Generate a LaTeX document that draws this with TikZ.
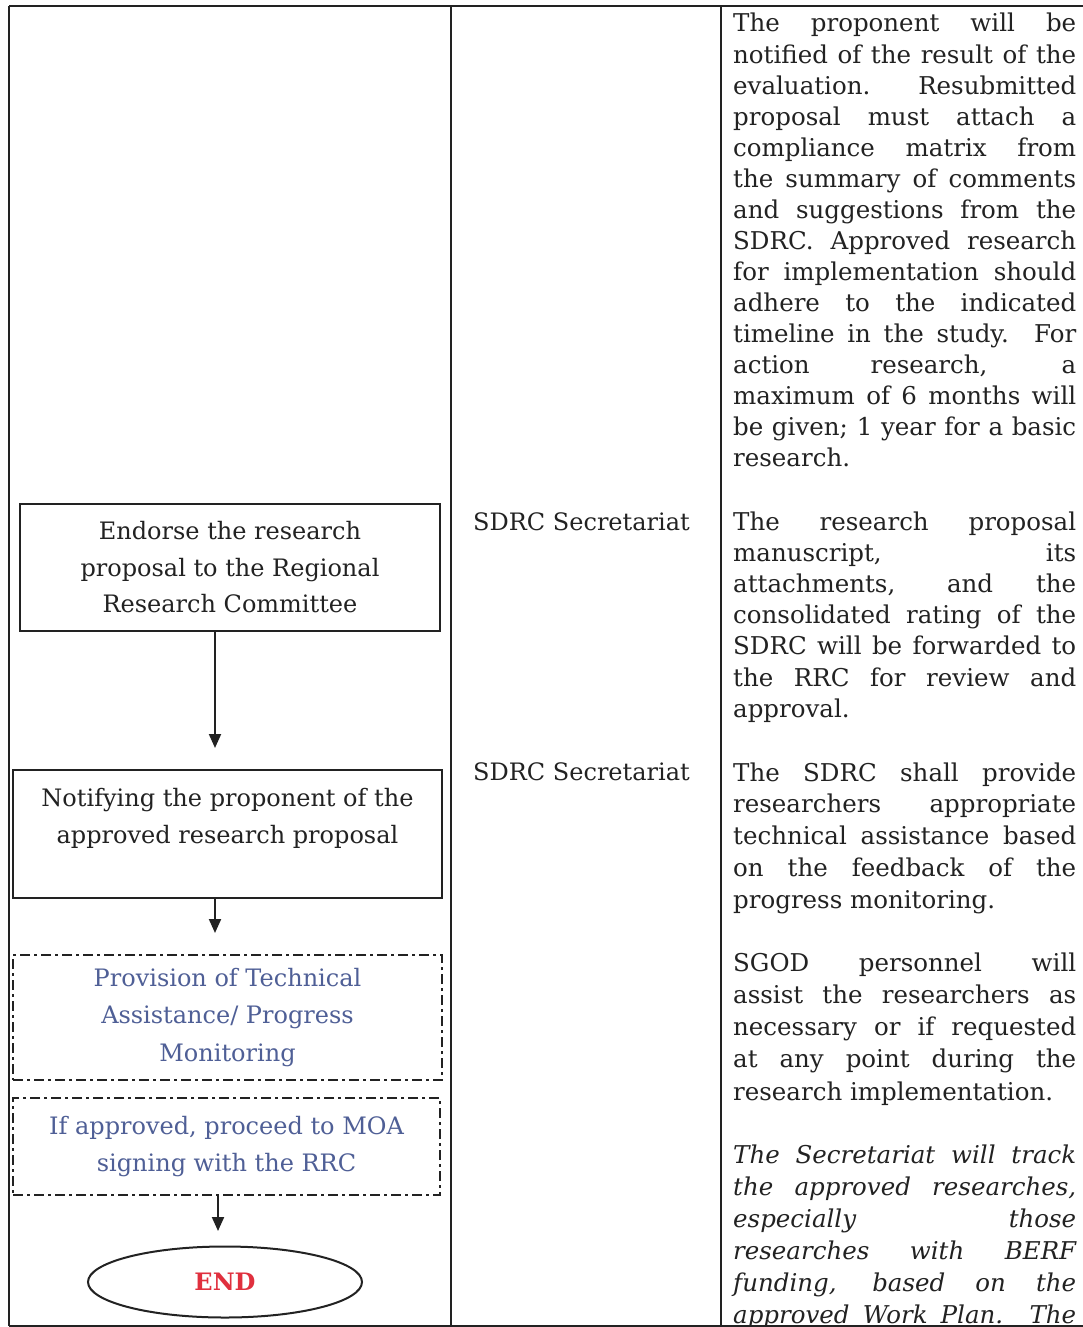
\documentclass[tikz,border=0pt]{standalone}
\usepackage{fontspec}
\setmainfont{DejaVu Serif}
\usetikzlibrary{arrows.meta,shapes.geometric}
\definecolor{ink}{HTML}{222222}
\definecolor{bluetxt}{HTML}{4F5F96}
\definecolor{endred}{HTML}{E0303E}
\newcommand{\parasetup}{\tolerance=10000\relax\hyphenpenalty=10000\relax}
\begin{document}
\begin{tikzpicture}[x=1pt,y=-1pt,
  rule/.style={draw=ink, line width=2pt},
  flowbox/.style={draw=ink, line width=2pt, inner sep=0pt, align=center, text=ink,
    font=\fontsize{24}{36.5}\selectfont},
  dashbox/.style={draw=ink, line width=1.6pt, dash pattern=on 10pt off 4pt on 3pt off 4pt,
    inner sep=0pt, align=center, text=bluetxt, font=\fontsize{24}{37.5}\selectfont},
  arr/.style={draw=ink, line width=2pt, -{Triangle[width=12pt,length=14pt]}},
  para/.style={anchor=base west, inner sep=0pt, text width=343pt, align=justify, text=ink},
  role/.style={anchor=base west, inner sep=0pt, text=ink, font=\fontsize{24}{31}\selectfont}
]
\useasboundingbox (0,0) rectangle (1083,1327);
\clip (0,0) rectangle (1083,1327);
\fill[white] (0,0) rectangle (1083,1327);

% table rules
\coordinate (tl) at (9,6);
\coordinate (tr) at (1083,6);
\coordinate (bl) at (9,1326);
\coordinate (br) at (1083,1326);
\coordinate (c1t) at (451,6);
\coordinate (c1b) at (451,1327);
\coordinate (c2t) at (721,6);
\coordinate (c2b) at (721,1327);
\draw[rule] (tl) -- (tr);
\draw[rule] (tl) -- (bl);
\draw[rule] (bl) -- (br);
\draw[rule] (c1t) -- (c1b);
\draw[rule] (c2t) -- (c2b);

% flow column
\node[flowbox, minimum width=420pt, minimum height=127pt] (b1) at (230,567.5)
  {Endorse the research\\proposal to the Regional\\Research Committee};
\node[flowbox, minimum width=429pt, minimum height=128pt] (b2) at (227.5,834)
  {Notifying the proponent of the\\approved research proposal\\\mbox{}};
\node[dashbox, minimum width=429pt, minimum height=125pt] (b3) at (227.5,1017.5)
  {Provision of Technical\\Assistance/ Progress\\Monitoring};
\node[dashbox, minimum width=427pt, minimum height=97pt] (b4) at (226.5,1146.5)
  {If approved, proceed to MOA\\signing with the RRC};
\node[ellipse, draw=ink, line width=2pt, minimum width=274pt, minimum height=71pt,
  inner sep=0pt, text=endred, font=\fontsize{24}{28}\selectfont\bfseries] (e) at (225,1282) {END};

\coordinate (a1) at (215,748);
\coordinate (a2) at (215,933);
\coordinate (a3) at (218,1231);
\draw[arr] (a1 |- b1.south) -- (a1);
\draw[arr] (a2 |- b2.south) -- (a2);
\draw[arr] (a3 |- b4.south) -- (a3);

% responsible column
\node[role] (r1) at (473,530) {SDRC Secretariat};
\node[role] (r2) at (473,780) {SDRC Secretariat};

% remarks column
\node[para, font=\fontsize{24.5}{31.07}\selectfont\parasetup] (p1) at (733,32)
  {The proponent will be\linebreak
   notified of the result of the\linebreak
   evaluation. Resubmitted\linebreak
   proposal must attach a\linebreak
   compliance matrix from\linebreak
   the summary of comments\linebreak
   and suggestions from the\linebreak
   SDRC. Approved research\linebreak
   for implementation should\linebreak
   adhere to the indicated\linebreak
   timeline in the study. For\linebreak
   action research, a\linebreak
   maximum of 6 months will\linebreak
   be given; 1 year for a basic\linebreak
   research.};
\node[para, font=\fontsize{24.5}{31.2}\selectfont\parasetup] (p2) at (733,530)
  {The research proposal\linebreak
   manuscript, its\linebreak
   attachments, and the\linebreak
   consolidated rating of the\linebreak
   SDRC will be forwarded to\linebreak
   the RRC for review and\linebreak
   approval.};
\node[para, font=\fontsize{24.5}{31.75}\selectfont\parasetup] (p3) at (733,781)
  {The SDRC shall provide\linebreak
   researchers appropriate\linebreak
   technical assistance based\linebreak
   on the feedback of the\linebreak
   progress monitoring.};
\node[para, font=\fontsize{24.5}{32.25}\selectfont\parasetup] (p4) at (733,971)
  {SGOD personnel will\linebreak
   assist the researchers as\linebreak
   necessary or if requested\linebreak
   at any point during the\linebreak
   research implementation.};
\node[para, font=\fontsize{24.5}{32}\selectfont\itshape\parasetup] (p5) at (733,1163)
  {The Secretariat will track\linebreak
   the approved researches,\linebreak
   especially those\linebreak
   researches with BERF\linebreak
   funding, based on the\linebreak
   approved Work Plan. The\linebreak\mbox{}};
\end{tikzpicture}
\end{document}
